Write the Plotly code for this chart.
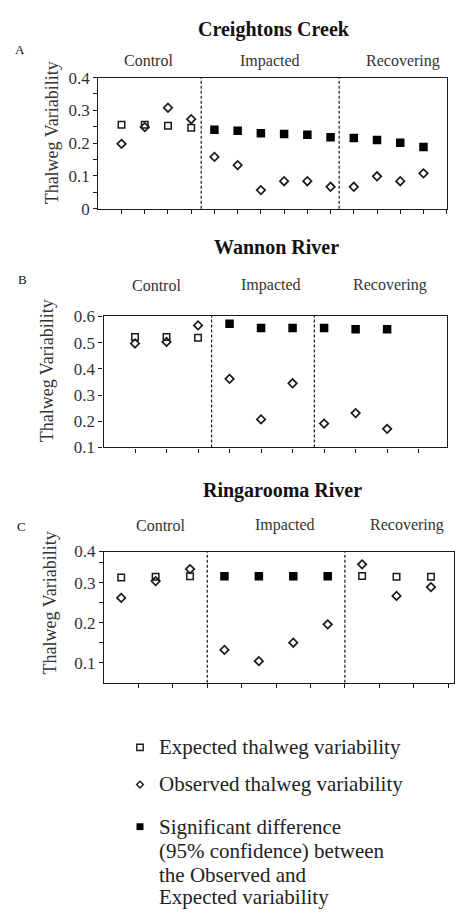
import plotly.graph_objects as go

# ---------------- data ----------------
# Panel A: Creightons Creek (14 sites)
A_sites = [1, 2, 3, 4, 5, 6, 7, 8, 9, 10, 11, 12, 13, 14]
A_expected = [0.256, 0.256, 0.253, 0.247, 0.241, 0.238, 0.230, 0.228, 0.226, 0.218, 0.216, 0.210, 0.201, 0.188]
A_observed = [0.198, 0.249, 0.308, 0.273, 0.158, 0.133, 0.057, 0.084, 0.084, 0.067, 0.067, 0.099, 0.084, 0.108]
A_significant = [False, False, False, False, True, True, True, True, True, True, True, True, True, True]
A_bounds = [4.43, 10.37]

# Panel B: Wannon River (9 sites)
B_sites = [1, 2, 3, 4, 5, 6, 7, 8, 9]
B_expected = [0.522, 0.522, 0.519, 0.572, 0.556, 0.556, 0.556, 0.551, 0.551]
B_observed = [0.497, 0.503, 0.566, 0.362, 0.207, 0.345, 0.191, 0.231, 0.171]
B_significant = [False, False, False, True, True, True, True, True, True]
B_bounds = [3.43, 6.69]

# Panel C: Ringarooma River (10 sites)
C_sites = [0.5, 1.5, 2.5, 3.5, 4.5, 5.5, 6.5, 7.5, 8.5, 9.5]
C_expected = [0.313, 0.315, 0.316, 0.316, 0.316, 0.316, 0.316, 0.317, 0.315, 0.315]
C_observed = [0.262, 0.304, 0.334, 0.132, 0.104, 0.150, 0.196, 0.346, 0.267, 0.289]
C_significant = [False, False, False, True, True, True, True, False, False, False]
C_bounds = [3, 7]

panel_titles = ["Creightons Creek", "Wannon River", "Ringarooma River"]
panel_letters = ["A", "B", "C"]
reach_labels = ["Control", "Impacted", "Recovering"]
y_title = "Thalweg Variability"
legend_lines = [["Expected thalweg variability"],
                ["Observed thalweg variability"],
                ["Significant difference", "(95% confidence) between",
                 "the Observed and", "Expected variability"]]

A_yticks = [0, 0.1, 0.2, 0.3, 0.4]
A_yticktext = ["0", "0.1", "0.2", "0.3", "0.4"]
B_yticks = [0.1, 0.2, 0.3, 0.4, 0.5, 0.6]
B_yticktext = ["0.1", "0.2", "0.3", "0.4", "0.5", "0.6"]
C_yticks = [0.1, 0.2, 0.3, 0.378]
C_yticktext = ["0.1", "0.2", "0.3", "0.4"]

# ---------------- layout helpers ----------------
W, H = 455, 916
FONT = "Liberation Serif"
INK = "#1a1a1a"


def px(x):
    return x / W


def py(y):
    return 1 - y / H


fig = go.Figure()

panels = [
    dict(sites=A_sites, exp=A_expected, obs=A_observed, sig=A_significant, bounds=A_bounds,
         xbox=(98.3, 446.7), ybox=(70, 204), xr=[0, 15], xt=list(range(1, 16)),
         yr=[0, 0.4], yt=A_yticks, ytt=A_yticktext, minor=[0.05, 0.15, 0.25, 0.35],
         title_xy=(274, 21), letter_xy=(20, 41), ytitle_xy=(52, 127),
         reach_xy=[(148, 53), (270, 53), (403, 53)]),
    dict(sites=B_sites, exp=B_expected, obs=B_observed, sig=B_significant, bounds=B_bounds,
         xbox=(103.5, 447), ybox=(313.5, 447.7), xr=[0, 10.9], xt=list(range(1, 11)),
         yr=[0.1, 0.602], yt=B_yticks, ytt=B_yticktext, minor=[],
         title_xy=(276, 243), letter_xy=(22, 276), ytitle_xy=(47, 370),
         reach_xy=[(156, 282), (271, 282), (390, 282)]),
    dict(sites=C_sites, exp=C_expected, obs=C_observed, sig=C_significant, bounds=C_bounds,
         xbox=(104, 454), ybox=(554, 688), xr=[0, 10.17], xt=list(range(1, 11)),
         yr=[0.05, 0.378], yt=C_yticks, ytt=C_yticktext, minor=[0.15, 0.25, 0.35],
         title_xy=(282, 492), letter_xy=(21, 528), ytitle_xy=(50, 607),
         reach_xy=[(160, 527), (285, 527), (407, 527)]),
]

annotations = []
shapes = []
for i, p in enumerate(panels):
    n = "" if i == 0 else str(i + 1)
    xa, ya = "x" + n, "y" + n
    open_x = [s for s, g in zip(p["sites"], p["sig"]) if not g]
    open_y = [v for v, g in zip(p["exp"], p["sig"]) if not g]
    fill_x = [s for s, g in zip(p["sites"], p["sig"]) if g]
    fill_y = [v for v, g in zip(p["exp"], p["sig"]) if g]
    fig.add_trace(go.Scatter(x=open_x, y=open_y, mode="markers", xaxis=xa, yaxis=ya,
                             name="Expected thalweg variability", showlegend=False,
                             marker=dict(symbol="square-open", size=6.5, color=INK, line=dict(width=1.5))))
    fig.add_trace(go.Scatter(x=p["sites"], y=p["obs"], mode="markers", xaxis=xa, yaxis=ya,
                             name="Observed thalweg variability", showlegend=False,
                             marker=dict(symbol="diamond-open", size=6.5, color=INK, line=dict(width=1.7))))
    fig.add_trace(go.Scatter(x=fill_x, y=fill_y, mode="markers", xaxis=xa, yaxis=ya,
                             name="Significant difference", showlegend=False,
                             marker=dict(symbol="square", size=8.5, color="#000")))

    axis_common = dict(showline=True, linecolor=INK, linewidth=1.3, mirror=True,
                       showgrid=False, zeroline=False, ticks="outside", ticklen=4,
                       tickcolor=INK, tickwidth=1.2, fixedrange=True)
    fig.update_layout(**{
        ("xaxis" + n): dict(axis_common, domain=[px(p["xbox"][0]), px(p["xbox"][1])],
                            range=p["xr"], tickmode="array", tickvals=p["xt"],
                            showticklabels=False, anchor=ya),
        ("yaxis" + n): dict(axis_common, domain=[py(p["ybox"][1]), py(p["ybox"][0])],
                            range=p["yr"], tickmode="array", tickvals=p["yt"], ticktext=p["ytt"],
                            tickfont=dict(family=FONT, size=17, color="#333"), anchor=xa,
                            minor=dict(tickmode="array", tickvals=p["minor"], ticks="outside",
                                       ticklen=4, tickcolor=INK, tickwidth=1.2)),
    })
    for b in p["bounds"]:
        shapes.append(dict(type="line", xref=xa, yref=ya + " domain", x0=b, x1=b, y0=0, y1=1,
                           line=dict(color=INK, width=1.2, dash="3px,2px")))
    annotations.append(dict(text="<b>%s</b>" % panel_titles[i], x=px(p["title_xy"][0]), y=py(p["title_xy"][1]),
                            xref="paper", yref="paper", showarrow=False, xanchor="center", yanchor="middle",
                            font=dict(family=FONT, size=20, color="#111")))
    annotations.append(dict(text=panel_letters[i], x=px(p["letter_xy"][0]), y=py(p["letter_xy"][1]),
                            xref="paper", yref="paper", showarrow=False, xanchor="center", yanchor="middle",
                            font=dict(family=FONT, size=13, color="#111")))
    annotations.append(dict(text=y_title, x=px(p["ytitle_xy"][0]), y=py(p["ytitle_xy"][1]),
                            xref="paper", yref="paper", showarrow=False, textangle=-90,
                            xanchor="center", yanchor="middle",
                            font=dict(family=FONT, size=18, color="#333")))
    for lab, (lx, ly) in zip(reach_labels, p["reach_xy"]):
        annotations.append(dict(text=lab, x=px(lx), y=py(ly), xref="paper", yref="paper",
                                showarrow=False, xanchor="center", yanchor="middle",
                                font=dict(family=FONT, size=16, color="#333")))

# ---------------- legend (drawn as key shapes + text) ----------------
key_x = 140
key_rows = [754, 792, 835]
line_ys = [[754], [791], [835, 860, 884, 907]]
half = 3.2
# expected: open square
shapes.append(dict(type="rect", xref="paper", yref="paper",
                   x0=px(key_x - half), x1=px(key_x + half), y0=py(key_rows[0] + half), y1=py(key_rows[0] - half),
                   line=dict(color=INK, width=1.4), fillcolor="white"))
# observed: open diamond
d = 3.4
shapes.append(dict(type="path", xref="paper", yref="paper",
                   path="M %f,%f L %f,%f L %f,%f L %f,%f Z" % (
                       px(key_x), py(key_rows[1] - d), px(key_x + d), py(key_rows[1]),
                       px(key_x), py(key_rows[1] + d), px(key_x - d), py(key_rows[1])),
                   line=dict(color=INK, width=1.4), fillcolor="white"))
# significant: filled square
shapes.append(dict(type="rect", xref="paper", yref="paper",
                   x0=px(key_x - 3.5), x1=px(key_x + 3.5), y0=py(key_rows[2] + 3.5), y1=py(key_rows[2] - 3.5),
                   line=dict(color="#000", width=0), fillcolor="#000"))
for lines, ys in zip(legend_lines, line_ys):
    for txt, ly in zip(lines, ys):
        annotations.append(dict(text=txt, x=px(157), y=py(ly), xref="paper", yref="paper",
                                showarrow=False, xanchor="left", yanchor="middle",
                                font=dict(family=FONT, size=21, color="#222")))

fig.update_layout(
    width=W, height=H, margin=dict(l=0, r=0, t=0, b=0),
    paper_bgcolor="white", plot_bgcolor="white",
    annotations=annotations, shapes=shapes,
    showlegend=False,
)

fig.write_html("out.html")
